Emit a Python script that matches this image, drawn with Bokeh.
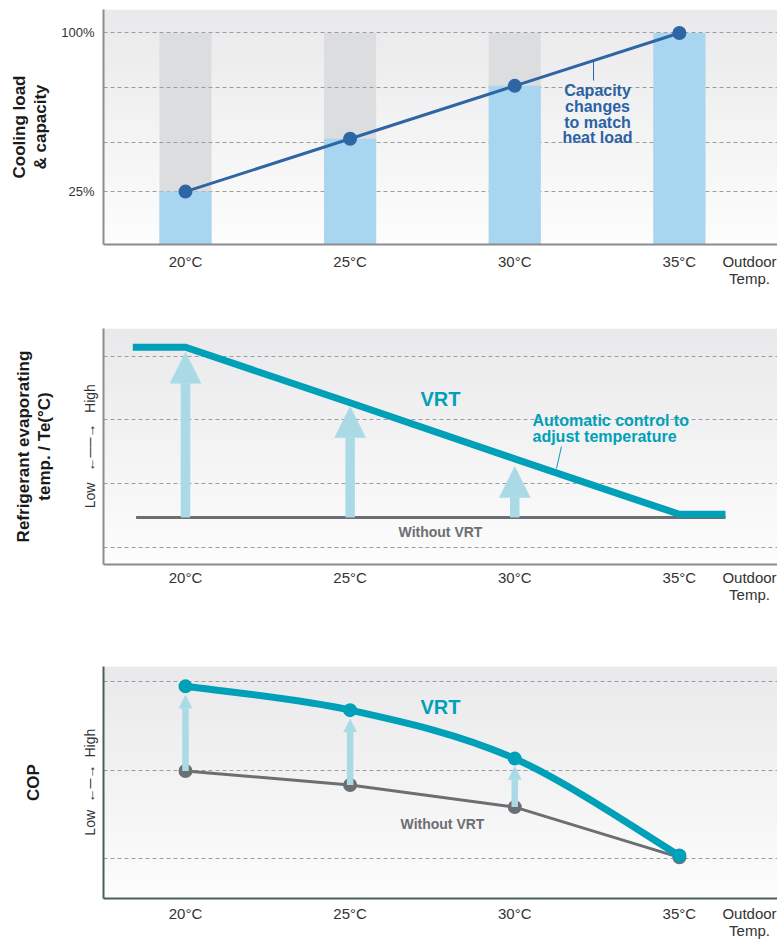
import numpy as np
from bokeh.plotting import figure
from bokeh.models import Label, Arrow, NormalHead, FixedTicker, Range1d, ColumnDataSource
from bokeh.layouts import column
from bokeh.embed import file_html
from bokeh.resources import INLINE

# ---------------- data ----------------
temps = [20, 25, 30, 35]
temp_labels = ["20°C", "25°C", "30°C", "35°C"]

# chart 1: cooling load & capacity (%)
cooling_load = [100, 100, 100, 100]
capacity = [25, 50, 75, 100]
load_grid = [25, 48, 74, 100]
load_tick_labels = {25: "25%", 100: "100%"}

# chart 2: refrigerant evaporating temp (relative units, low -> high)
te_x = [18.4, 20, 25, 30, 35, 36.4]
te_vrt = [4.14, 4.14, 3.27, 2.39, 1.52, 1.52]
te_base_x = [18.5, 36.4]
te_base = [1.47, 1.47]
te_arrow_x = [20, 25, 30]
te_arrow_tip = [4.06, 3.21, 2.27]
te_grid = [1, 2, 3, 4]
te_scale_words = ["High", "←──→", "Low"]

# chart 3: COP (relative units, low -> high)
cop_vrt = [2.95, 2.68, 2.13, 1.03]
cop_base = [1.99, 1.83, 1.58, 1.01]
cop_arrow_x = [20, 25, 30]
cop_arrow_tip = [2.85, 2.58, 2.04]
cop_grid = [1, 2, 3]
cop_scale_words = ["High", "←─→", "Low"]

x_title = "Outdoor\nTemp."

# ---------------- style / layout ----------------
FONT = "Liberation Sans"
TEAL = "#00a0b9"
LIGHT = "#a9dae6"
GREY = "#6d6e71"
BLUE = "#2d65a5"
BAR_BLUE = "#a8d5f0"
BAR_GREY = "#dcdddf"
TXT = "#333333"
GRID = "#9d9d9d"
TITLE = "#1a1a1a"

X0, X1 = 17.51, 37.98
FRAME_L, FRAME_R = 103, 777


def xd(px):
    return X0 + (px - FRAME_L) * (X1 - X0) / (FRAME_R - FRAME_L)


def ymap(top, bottom, y0, y1):
    return lambda py: y0 + (bottom - py) * (y1 - y0) / (bottom - top)


X_TITLE_POS = round(xd(749), 3)


def gradient(n=64):
    t = np.linspace(0, 1, n)[:, None]
    bottom = np.array([253, 253, 253])[None, :]
    top = np.array([234, 234, 236])[None, :]
    rgb = bottom * (1 - t) + top * t
    img = np.empty((n, 1), dtype=np.uint32)
    view = img.view(dtype=np.uint8).reshape((n, 1, 4))
    view[:, 0, 0:3] = rgb.astype(np.uint8)
    view[:, 0, 3] = 255
    return img


def make_fig(height, top_b, bot_b, y0, y1, axis_color, standoff):
    p = figure(width=777, height=height, min_border_left=103, min_border_right=0,
               min_border_top=top_b, min_border_bottom=bot_b,
               x_range=Range1d(X0, X1), y_range=Range1d(y0, y1),
               output_backend="svg", toolbar_location=None, tools="")
    p.outline_line_color = None
    p.background_fill_color = "white"
    p.border_fill_color = "white"
    p.image_rgba(image=[gradient()], x=X0, y=y0, dw=X1 - X0, dh=y1 - y0, level="image")
    p.xgrid.visible = False
    p.ygrid.grid_line_color = GRID
    p.ygrid.grid_line_dash = "4 3"
    p.ygrid.grid_line_width = 1
    for ax in (p.xaxis[0], p.yaxis[0]):
        ax.axis_line_color = axis_color
        ax.axis_line_width = 2
        ax.major_tick_line_color = None
        ax.major_tick_out = 0
        ax.major_tick_in = 0
        ax.minor_tick_line_color = None
        ax.minor_tick_out = 0
        ax.major_label_text_font = FONT
        ax.major_label_text_color = TXT
        ax.axis_label_text_font = FONT
        ax.axis_label_text_font_style = "bold"
        ax.axis_label_text_font_size = "17px"
        ax.axis_label_text_color = TITLE
        ax.axis_label_text_line_height = 1.1
    ticks = temps + [X_TITLE_POS]
    labels = temp_labels + [x_title]
    p.xaxis.ticker = FixedTicker(ticks=ticks)
    p.xaxis.major_label_overrides = dict(zip(ticks, labels))
    p.xaxis.major_label_text_font_size = "15px"
    p.xaxis.major_label_text_line_height = 1.05
    p.xaxis.major_label_standoff = standoff
    return p


def scale_axis(p, yd, pys, words, standoff, title, title_standoff):
    pos = [round(yd(py), 4) for py in pys]
    p.yaxis.ticker = FixedTicker(ticks=pos)
    p.yaxis.major_label_overrides = dict(zip(pos, words))
    p.yaxis.major_label_orientation = "vertical"
    p.yaxis.major_label_text_font_size = "14px"
    p.yaxis.major_label_standoff = standoff
    p.yaxis.axis_label = title
    p.yaxis.axis_label_standoff = title_standoff


def add_label(p, yd, px, py, text, size, color, bold=False, align="center"):
    p.add_layout(Label(x=xd(px), y=yd(py), text=text, text_font=FONT,
                       text_font_size=f"{size}px", text_color=color,
                       text_font_style="bold" if bold else "normal",
                       text_align=align, text_baseline="middle"))


# ================= chart 1 =================
c1_y0, c1_y1 = 0, 111.1
p1 = make_fig(290, 9, 46, c1_y0, c1_y1, "#8c8c8c", 8)
yd1 = ymap(9, 244, c1_y0, c1_y1)
p1.yaxis.ticker = FixedTicker(ticks=[25, 100])
p1.yaxis.major_label_overrides = load_tick_labels
p1.yaxis.major_label_text_font_size = "13px"
p1.yaxis.major_label_standoff = 9
p1.yaxis.axis_label = "Cooling load\n& capacity"
p1.yaxis.axis_label_standoff = 8
p1.ygrid.ticker = FixedTicker(ticks=load_grid)

src1 = ColumnDataSource(dict(t=temps, load=cooling_load, cap=capacity))
p1.vbar(x="t", top="load", bottom=0, width=1.58, source=src1, fill_color=BAR_GREY,
        line_color=None, level="image")
p1.vbar(x="t", top="cap", bottom=0, width=1.58, source=src1, fill_color=BAR_BLUE,
        line_color=None)
p1.line(x="t", y="cap", source=src1, line_color=BLUE, line_width=3)
p1.scatter(x="t", y="cap", source=src1, size=14, fill_color=BLUE, line_color=None)
p1.segment(x0=[xd(593)], y0=[yd1(61)], x1=[xd(593)], y1=[yd1(80)],
           line_color=BLUE, line_width=1)
for py, txt in zip([90, 106, 122, 137], ["Capacity", "changes", "to match", "heat load"]):
    add_label(p1, yd1, 597, py, txt, 16, "#2a62a3", bold=True)

# ================= chart 2 =================
c2_y0, c2_y1 = 0.733, 4.434
p2 = make_fig(330, 38, 56, c2_y0, c2_y1, "#8c8c8c", 4)
yd2 = ymap(328, 564, c2_y0, c2_y1)
scale_axis(p2, yd2, [398, 447, 495], te_scale_words, 5,
           "Refrigerant evaporating\ntemp. / Te(°C)", 26)
p2.ygrid.ticker = FixedTicker(ticks=te_grid)

for x, tip in zip(te_arrow_x, te_arrow_tip):
    p2.add_layout(Arrow(x_start=x, y_start=te_base[0], x_end=x, y_end=tip,
                        line_color=LIGHT, line_width=9.5, level="glyph",
                        end=NormalHead(size=31, fill_color=LIGHT, line_color=LIGHT,
                                       line_width=0.5)))
p2.line(x=te_base_x, y=te_base, line_color=GREY, line_width=3)
p2.line(x=te_x, y=te_vrt, line_color=TEAL, line_width=7, line_join="miter")
p2.segment(x0=[xd(561)], y0=[yd2(446)], x1=[xd(556)], y1=[yd2(468)],
           line_color=TEAL, line_width=1)
add_label(p2, yd2, 440, 398, "VRT", 20, TEAL, bold=True)
add_label(p2, yd2, 532, 420, "Automatic control to", 16, TEAL, bold=True, align="left")
add_label(p2, yd2, 532, 436, "adjust temperature", 16, TEAL, bold=True, align="left")
add_label(p2, yd2, 440, 531, "Without VRT", 14, GREY, bold=True)

# ================= chart 3 =================
c3_y0, c3_y1 = 0.543, 3.175
p3 = make_fig(322, 46, 40, c3_y0, c3_y1, "#4a5f57", 6)
yd3 = ymap(666, 902, c3_y0, c3_y1)
scale_axis(p3, yd3, [744, 785, 825], cop_scale_words, 5, "COP", 37)
p3.ygrid.ticker = FixedTicker(ticks=cop_grid)

for x, base, tip in zip(cop_arrow_x, cop_base, cop_arrow_tip):
    p3.add_layout(Arrow(x_start=x, y_start=base, x_end=x, y_end=tip,
                        line_color=LIGHT, line_width=6.5, level="glyph",
                        end=NormalHead(size=13, fill_color=LIGHT, line_color=LIGHT,
                                       line_width=0.5)))
p3.line(x=temps, y=cop_base, line_color=GREY, line_width=3)
p3.scatter(x=temps, y=cop_base, size=14, fill_color=GREY, line_color=None)

# smooth VRT curve (Catmull-Rom rendered as cubic Bezier segments)
P = np.column_stack([temps, cop_vrt]).astype(float)
n = len(P)
seg = dict(x0=[], y0=[], x1=[], y1=[], cx0=[], cy0=[], cx1=[], cy1=[])
for i in range(n - 1):
    p_prev = P[max(i - 1, 0)]
    p_a, p_b = P[i], P[i + 1]
    p_next = P[min(i + 2, n - 1)]
    c0 = p_a + (p_b - p_prev) / 6.0
    c1 = p_b - (p_next - p_a) / 6.0
    seg["x0"].append(p_a[0]); seg["y0"].append(p_a[1])
    seg["x1"].append(p_b[0]); seg["y1"].append(p_b[1])
    seg["cx0"].append(c0[0]); seg["cy0"].append(c0[1])
    seg["cx1"].append(c1[0]); seg["cy1"].append(c1[1])
p3.bezier(source=ColumnDataSource(seg), x0="x0", y0="y0", x1="x1", y1="y1",
          cx0="cx0", cy0="cy0", cx1="cx1", cy1="cy1",
          line_color=TEAL, line_width=7, line_cap="round")
p3.scatter(x=temps, y=cop_vrt, size=14, fill_color=TEAL, line_color=None)

add_label(p3, yd3, 440, 707, "VRT", 20, TEAL, bold=True)
add_label(p3, yd3, 442, 826, "Without VRT", 14, GREY, bold=True)

layout = column(p1, p2, p3, spacing=0)
open("out.html", "w").write(file_html(layout, INLINE))
